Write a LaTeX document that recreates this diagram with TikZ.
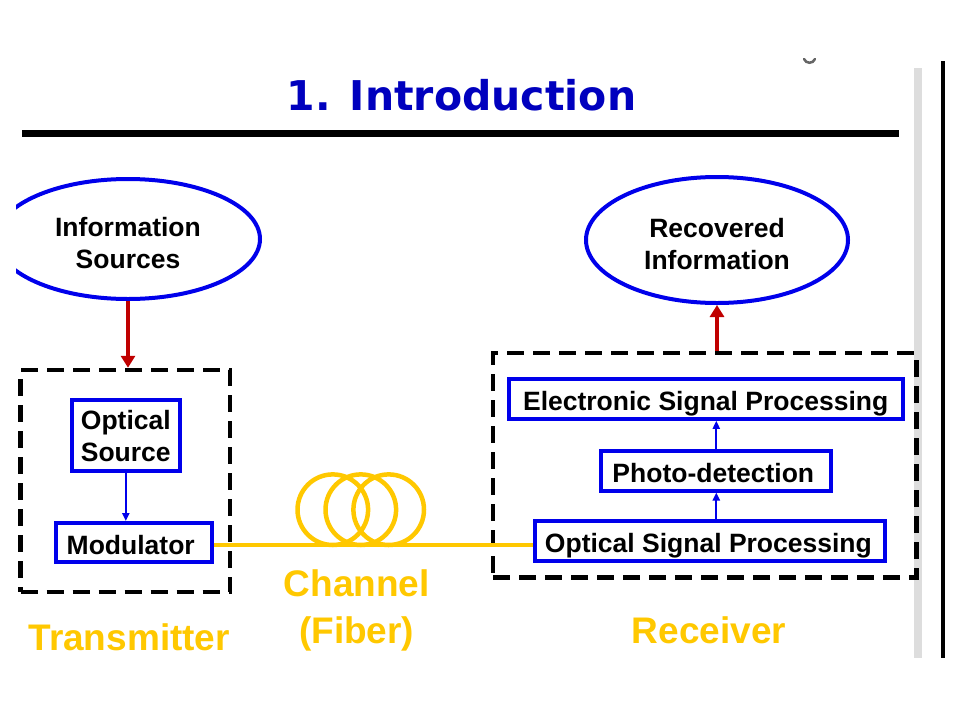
\documentclass[tikz,border=0pt]{standalone}
\usepackage{fontspec}
\setmainfont{Liberation Sans}
\newfontfamily\titlefont{DejaVu Sans}
\usetikzlibrary{arrows.meta,shapes.geometric}
\definecolor{boxblue}{RGB}{0,0,235}
\definecolor{titleblue}{RGB}{0,0,190}
\definecolor{arrred}{RGB}{192,0,0}
\definecolor{fiberyellow}{RGB}{255,200,0}
\definecolor{bargray}{RGB}{221,221,221}
\newcommand{\lowerstrut}{\rule{0pt}{27pt}}
\begin{document}
\begin{tikzpicture}[x=1pt,y=-1pt,
  txt/.style={font=\fontsize{26.5}{32}\selectfont\bfseries, align=center},
  oval/.style={ellipse, draw=boxblue, line width=4pt, inner sep=0pt, txt},
  bluebox/.style={draw=boxblue, line width=4pt, inner sep=0pt, txt},
  onebox/.style={bluebox, text depth=0pt, text height=23pt},
  dashbox/.style={draw=black, line width=4.5pt, dash pattern=on 17pt off 9pt, inner sep=0pt},
  redarrow/.style={draw=arrred, line width=4.5pt, -{Triangle[length=12pt,width=14pt]}},
  bluearrow/.style={draw=boxblue, line width=2.2pt, -{Triangle[length=8pt,width=7pt]}},
  fiber/.style={draw=fiberyellow, line width=4.5pt},
  yellowlbl/.style={text=fiberyellow, font=\fontsize{37}{47}\selectfont\bfseries, align=center, inner sep=0pt}]
\useasboundingbox (0,0) rectangle (960,720);
\fill[white] (0,0) rectangle (960,720);

% title and rules
\node[text=titleblue, font=\titlefont\fontsize{41}{48}\selectfont\bfseries, anchor=base, inner sep=0pt] (title) at (461.5,110) {1. Introduction};
\draw[line width=7pt] (22,133.5) -- (899,133.5);
\fill[bargray] (914,68) rectangle (922,658);
\fill[black] (941,61) rectangle (945,658);
\draw[line width=2.5pt, gray!80!black, line cap=round] (804,59) .. controls (806,64) and (813,64) .. (815,59);

% ellipses
\begin{scope}
  \clip (16,0) rectangle (960,720);
  \node[oval, minimum width=264pt, minimum height=120pt] (src) at (128,239) {\lowerstrut Information\\Sources};
\end{scope}
\node[oval, minimum width=262pt, minimum height=126pt] (dst) at (717,240) {\lowerstrut Recovered\\Information};

% transmitter
\node[dashbox, minimum width=209.5pt, minimum height=222pt] (tx) at (125.25,481) {};
\node[bluebox, minimum width=107.7pt, minimum height=71.6pt] (osrc) at (125.8,435.5) {\rule{0pt}{21pt}Optical\\Source};
\node[onebox, inner xsep=10.4pt, text width=134.6pt, align=left, minimum height=39.2pt] (mod) at (134,542.6) {Modulator};

% receiver
\node[dashbox, minimum width=423.3pt, minimum height=224.3pt] (rx) at (704.7,465.2) {};
\node[onebox, minimum width=394pt, minimum height=40pt] (esp) at (705.7,398.8) {Electronic Signal Processing};
\node[onebox, minimum width=230pt, minimum height=40pt] (pd) at (716.3,470.5) {Photo-detection\hspace*{6pt}};
\node[onebox, minimum width=350.8pt, minimum height=40pt] (osp) at (709.9,541.3) {Optical Signal Processing\hspace*{3pt}};

% connectors
\draw[redarrow] (src.south) -- (src.south |- tx.north);
\draw[redarrow] (dst.south |- rx.north) -- (dst.south);
\draw[bluearrow] (osrc.south) -- (osrc.south |- mod.north);
\draw[bluearrow] (pd.south |- osp.north) -- (pd.south);
\draw[bluearrow] (pd.north) -- (pd.north |- esp.south);

% fiber
\coordinate (fy) at (0,545);
\draw[fiber] (mod.east |- fy) -- (osp.west |- fy);
\draw[fiber] (332.8,509.7) circle[radius=35.3];
\draw[fiber] (360.8,509.7) circle[radius=35.3];
\draw[fiber] (388.7,509.7) circle[radius=35.3];

% labels
\node[yellowlbl, anchor=base] (txlbl) at (129.2,650) {Transmitter};
\node[yellowlbl] (chlbl) at (356.7,610) {Channel\\(Fiber)};
\node[yellowlbl, anchor=base] (rxlbl) at (709,643) {Receiver};
\end{tikzpicture}
\end{document}
